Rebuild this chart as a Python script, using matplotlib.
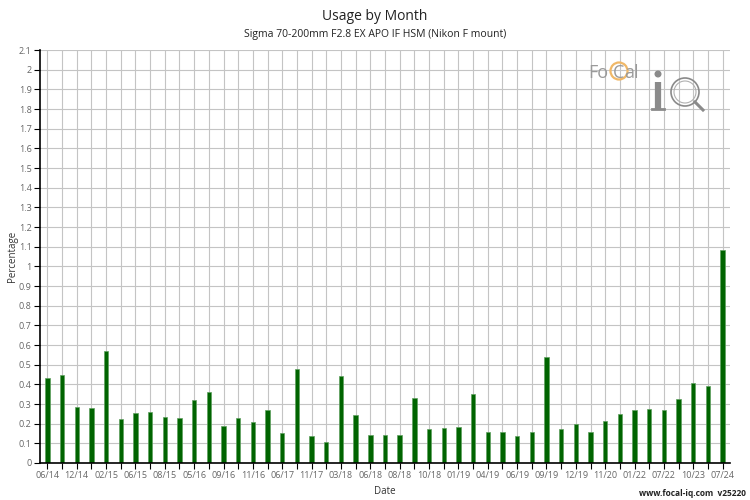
import matplotlib
matplotlib.use("Agg")
import matplotlib.pyplot as plt
from matplotlib.patches import Circle
import numpy as np

plt.rcParams["font.family"] = ["Open Sans", "DejaVu Sans"]

# one bar per month with data, every other one labelled
labels = ["06/14", "", "12/14", "", "02/15", "", "06/15", "", "08/15", "",
          "05/16", "", "09/16", "", "11/16", "", "06/17", "", "11/17", "",
          "03/18", "", "06/18", "", "08/18", "", "10/18", "", "01/19", "",
          "04/19", "", "06/19", "", "09/19", "", "12/19", "", "11/20", "",
          "01/22", "", "07/22", "", "10/23", "", "07/24"]
usage = [0.43, 0.45, 0.285, 0.28, 0.567, 0.223, 0.256, 0.258, 0.233, 0.228,
         0.32, 0.361, 0.19, 0.229, 0.209, 0.27, 0.152, 0.476, 0.135, 0.106,
         0.44, 0.245, 0.143, 0.143, 0.14, 0.33, 0.174, 0.179, 0.185, 0.351,
         0.157, 0.157, 0.137, 0.157, 0.541, 0.174, 0.199, 0.157, 0.216, 0.251,
         0.27, 0.273, 0.268, 0.324, 0.408, 0.393, 1.084]
yticks = np.round(np.arange(0, 2.11, 0.1), 1)

W, H = 750, 500
fig = plt.figure(figsize=(7.5, 5), dpi=100)
ax = fig.add_axes([40 / W, 1 - 463 / H, 690 / W, 413 / H])

x = np.arange(len(usage))
ax.bar(x, usage, width=0.3, color="#006400", edgecolor="#5fa05f",
       linewidth=0.5, zorder=3)

ax.set_xlim(-0.5, len(usage) - 0.5)
ax.set_ylim(0, 2.1)
ax.set_xticks(x)
ax.set_xticklabels(labels)
ax.set_yticks(yticks)
ax.set_yticklabels([f"{v:g}" for v in yticks])
ax.tick_params(axis="both", labelsize=6.5, labelcolor="#666666", length=4,
               width=0.8, color="black", pad=2)
ax.grid(True, color="#c4c4c4", linewidth=0.8, zorder=0)
ax.set_axisbelow(True)
for s in ["top", "right"]:
    ax.spines[s].set_visible(False)
for s in ["left", "bottom"]:
    ax.spines[s].set_linewidth(1.2)
    ax.spines[s].set_zorder(4)

ax.set_xlabel("Date", fontsize=7, color="#333333", labelpad=4)
ax.set_ylabel("Percentage", fontsize=7, color="#333333", va="center")
ax.yaxis.set_label_coords(-27 / 690, 0.5)

fig.text(0.5, 1 - 16 / H, "Usage by Month", ha="center", va="center",
         fontsize=10, color="#222222")
fig.text(0.5, 1 - 34 / H, "Sigma 70-200mm F2.8 EX APO IF HSM (Nikon F mount)",
         ha="center", va="center", fontsize=7.5, color="#222222")
fig.text(1 - 4 / W, 1 - 493 / H, "www.focal-iq.com  v25220", ha="right",
         va="center", fontsize=6, fontweight="bold", color="#222222")

# FoCal iQ logo
lg = fig.add_axes([580 / W, 1 - 115 / H, 130 / W, 55 / H])
lg.set_xlim(580, 710)
lg.set_ylim(115, 60)
lg.axis("off")
lg.patch.set_alpha(0)
lg.text(588, 78, "Fo", fontsize=13, color="#9a9a9a", va="baseline")
lg.add_patch(Circle((619, 71), 8.5, fill=False, ec="#f0b868", lw=1.6))
lg.text(612.5, 78, "C", fontsize=13, color="#9a9a9a", va="baseline")
lg.text(624, 78, "al", fontsize=13, color="#9a9a9a", va="baseline")
lg.add_patch(Circle((658, 74), 2.8, color="#8a8a8a"))
lg.plot([658, 658], [82, 109], color="#8a8a8a", lw=4.5, solid_capstyle="butt")
lg.plot([652, 664], [109, 109], color="#8a8a8a", lw=2)
lg.add_patch(Circle((685, 92), 14, fill=False, ec="#8a8a8a", lw=1.2))
lg.add_patch(Circle((685, 92), 11, fill=False, ec="#b0b0b0", lw=0.8))
lg.plot([695, 703], [102, 110], color="#8a8a8a", lw=2.2)

fig.savefig("out.png", dpi=100)
